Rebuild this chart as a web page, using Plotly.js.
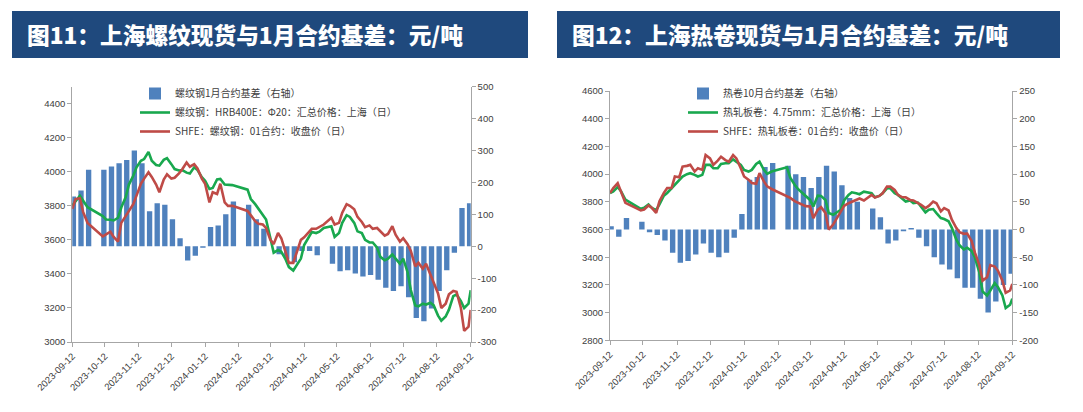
<!DOCTYPE html>
<html>
<head>
<meta charset="utf-8">
<script src="https://cdn.plot.ly/plotly-3.0.1.min.js"></script>
<style>
  html, body { margin: 0; padding: 0; background: #ffffff; }
  #chart { width: 1083px; height: 412px; }
</style>
</head>
<body>
<div id="chart"></div>
<script>
// ---------- data ----------
const lineDates = [
  '2023-09-12','2023-09-15','2023-09-19','2023-09-22','2023-09-26',
  '2023-10-10','2023-10-13','2023-10-17','2023-10-20','2023-10-24','2023-10-27','2023-10-31',
  '2023-11-03','2023-11-07','2023-11-10','2023-11-14','2023-11-17','2023-11-21','2023-11-24','2023-11-28',
  '2023-12-01','2023-12-05','2023-12-08','2023-12-12','2023-12-15','2023-12-19','2023-12-22','2023-12-26','2023-12-29',
  '2024-01-02','2024-01-05','2024-01-09','2024-01-12','2024-01-16','2024-01-19','2024-01-23','2024-01-26','2024-01-30',
  '2024-02-02','2024-02-06','2024-02-20','2024-02-23','2024-02-27',
  '2024-03-01','2024-03-05','2024-03-08','2024-03-12','2024-03-15','2024-03-19','2024-03-22','2024-03-26','2024-03-29',
  '2024-04-02','2024-04-09','2024-04-12','2024-04-16','2024-04-19','2024-04-23','2024-04-26','2024-04-30',
  '2024-05-07','2024-05-10','2024-05-14','2024-05-17','2024-05-21','2024-05-24','2024-05-28','2024-05-31',
  '2024-06-04','2024-06-07','2024-06-11','2024-06-14','2024-06-18','2024-06-21','2024-06-25','2024-06-28',
  '2024-07-02','2024-07-05','2024-07-09','2024-07-12','2024-07-16','2024-07-19','2024-07-23','2024-07-26','2024-07-30',
  '2024-08-02','2024-08-06','2024-08-09','2024-08-13','2024-08-16','2024-08-20','2024-08-23','2024-08-27','2024-08-30',
  '2024-09-03','2024-09-06','2024-09-10','2024-09-12'
];

const weekDates = [
  '2023-09-13','2023-09-20','2023-09-27','2023-10-11','2023-10-18','2023-10-25',
  '2023-11-01','2023-11-08','2023-11-15','2023-11-22','2023-11-29',
  '2023-12-06','2023-12-13','2023-12-20','2023-12-27',
  '2024-01-03','2024-01-10','2024-01-17','2024-01-24','2024-01-31',
  '2024-02-07','2024-02-21','2024-02-28',
  '2024-03-06','2024-03-13','2024-03-20','2024-03-27',
  '2024-04-03','2024-04-10','2024-04-17','2024-04-24',
  '2024-05-08','2024-05-15','2024-05-22','2024-05-29',
  '2024-06-05','2024-06-12','2024-06-19','2024-06-26',
  '2024-07-03','2024-07-10','2024-07-17','2024-07-24','2024-07-31',
  '2024-08-07','2024-08-14','2024-08-21','2024-08-28',
  '2024-09-04','2024-09-11'
];

// Chart 11: rebar
const rebarSpot = [
  3802,3825,3860,3830,3792,
  3740,3720,3718,3714,3730,3790,3850,
  3925,3977,4026,4065,4075,4117,4065,4040,
  4036,4070,4080,4045,4016,4008,4010,3995,3990,
  4026,4010,3968,3948,3899,3905,3955,3958,3925,
  3922,3922,3895,3840,3810,
  3782,3745,3720,3610,3525,3540,3530,3485,3440,
  3420,3490,3570,3610,3646,3640,3648,3670,
  3680,3617,3640,3700,3745,3735,3700,3650,
  3640,3600,3585,3585,3555,3500,3480,3490,
  3515,3490,3460,3490,3410,3305,3215,3210,3225,
  3220,3230,3215,3155,3125,3150,3190,3270,3280,
  3240,3200,3225,3305
];
const rebarFut = [
  3782,3840,3845,3763,3700,
  3620,3632,3648,3617,3590,3700,3740,
  3765,3810,3860,3930,3960,3997,3970,3925,
  3880,3955,3985,3960,3965,3990,4015,4055,4030,
  4045,4020,3960,3930,3820,3880,3870,3930,3820,
  3800,3800,3770,3745,3710,
  3695,3690,3670,3600,3575,3640,3610,3530,3465,
  3465,3600,3615,3640,3665,3665,3675,3690,
  3730,3690,3700,3760,3810,3800,3780,3735,
  3705,3675,3685,3665,3670,3650,3625,3635,
  3680,3630,3590,3610,3575,3535,3445,3465,3430,
  3460,3400,3350,3285,3200,3225,3280,3300,3295,
  3200,3065,3090,3188
];
const rebarBasis = [
  156,175,240,240,250,260,
  270,300,260,110,135,
  130,85,25,-45,
  -30,-5,60,65,100,
  140,130,85,
  55,0,-25,-40,
  -50,-15,-15,-28,
  -55,-78,-75,-85,
  -95,-90,-105,-130,
  -140,-125,-160,-225,-235,
  -195,-140,-75,-20,
  120,135
];

// Chart 12: hot-rolled coil
const hrcSpot = [
  3864,3876,3907,3876,3817,
  3750,3757,3781,3757,3740,3781,3845,
  3864,3900,3924,3960,3983,4000,4007,3995,
  3983,3995,4067,4067,4043,4043,4074,4079,4079,
  4107,4090,4067,4031,4019,4031,4074,4090,4031,
  4002,4019,4050,3975,3924,
  3893,3864,3840,3814,3767,3845,3843,3814,3719,
  3707,3743,3810,3850,3869,3862,3855,3874,
  3862,3833,3843,3862,3898,3898,3862,3850,
  3821,3802,3810,3790,3795,3767,3724,3743,
  3748,3719,3683,3676,3660,3612,3529,3486,3457,
  3469,3445,3398,3290,3152,3124,3160,3214,3183,
  3124,3033,3057,3100
];
const hrcFut = [
  3864,3900,3935,3876,3793,
  3738,3745,3774,3757,3721,3805,3864,
  3900,3900,3983,3978,4055,4060,4067,4019,
  4043,4031,4138,4114,4067,4098,4126,4102,4090,
  4138,4114,4043,3983,3960,3936,3931,4007,3948,
  3912,3893,3840,3829,3805,
  3793,3781,3769,3767,3683,3743,3762,3719,3600,
  3636,3731,3771,3790,3802,3814,3824,3810,
  3850,3831,3843,3862,3910,3910,3886,3850,
  3833,3833,3814,3810,3795,3779,3755,3771,
  3802,3790,3731,3755,3738,3671,3612,3581,3569,
  3571,3517,3433,3343,3231,3255,3343,3333,3302,
  3231,3143,3160,3207
];
const hrcBasis = [
  6,-13,21,14,-5,-10,
  -20,-42,-60,-57,-45,
  -25,-42,-50,-42,
  -15,28,90,95,113,
  120,115,100,
  95,75,95,115,
  105,80,57,50,
  38,22,-25,-20,
  -3,3,-15,-30,
  -50,-63,-72,-88,-105,
  -105,-125,-150,-130,
  -100,-80
];

const monthTicks = [
  '2023-09-12','2023-10-12','2023-11-12','2023-12-12','2024-01-12','2024-02-12',
  '2024-03-12','2024-04-12','2024-05-12','2024-06-12','2024-07-12','2024-08-12','2024-09-12'
];
const rebarPriceTicks = [3000,3200,3400,3600,3800,4000,4200,4400];
const rebarBasisTicks = [-300,-200,-100,0,100,200,300,400,500];
const hrcPriceTicks = [2800,3000,3200,3400,3600,3800,4000,4200,4400,4600];
const hrcBasisTicks = [-200,-150,-100,-50,0,50,100,150,200,250];

const titles = ['图11：上海螺纹现货与1月合约基差：元/吨', '图12：上海热卷现货与1月合约基差：元/吨'];
const names1 = ['螺纹钢1月合约基差（右轴）', '螺纹钢：HRB400E：Φ20：汇总价格：上海（日）', 'SHFE：螺纹钢：01合约：收盘价（日）'];
const names2 = ['热卷10月合约基差（右轴）', '热轧板卷：4.75mm：汇总价格：上海（日）', 'SHFE：热轧板卷：01合约：收盘价（日）'];

// ---------- style ----------
const W = 1083, H = 412;
const BLUE = '#4F81BD', GREEN = '#19A84E', RED = '#BF4B47';
const AXIS = '#A6A6A6', TXT = '#404040';
const CJK = 'Noto Sans CJK SC, sans-serif';
const NUM = 'Liberation Sans, Arial, sans-serif';
const barWidth = 4.9 * 86400000;
const px = v => v / W;
const py = v => 1 - v / H;

const traces = [
  { type: 'bar', x: weekDates, y: rebarBasis, xaxis: 'x', yaxis: 'y', name: names1[0],
    marker: { color: BLUE, line: { width: 0 } }, width: barWidth, legend: 'legend' },
  { type: 'scatter', mode: 'lines', x: lineDates, y: rebarSpot, xaxis: 'x', yaxis: 'y2', name: names1[1],
    line: { color: GREEN, width: 2.6 }, legend: 'legend' },
  { type: 'scatter', mode: 'lines', x: lineDates, y: rebarFut, xaxis: 'x', yaxis: 'y2', name: names1[2],
    line: { color: RED, width: 2.6 }, legend: 'legend' },
  { type: 'bar', x: weekDates, y: hrcBasis, xaxis: 'x2', yaxis: 'y3', name: names2[0],
    marker: { color: BLUE, line: { width: 0 } }, width: barWidth, legend: 'legend2' },
  { type: 'scatter', mode: 'lines', x: lineDates, y: hrcSpot, xaxis: 'x2', yaxis: 'y4', name: names2[1],
    line: { color: GREEN, width: 2.6 }, legend: 'legend2' },
  { type: 'scatter', mode: 'lines', x: lineDates, y: hrcFut, xaxis: 'x2', yaxis: 'y4', name: names2[2],
    line: { color: RED, width: 2.6 }, legend: 'legend2' }
];

const tickFont = { family: NUM, size: 9.5, color: TXT };
function xAxis(domain, anchor) {
  return {
    domain: domain, anchor: anchor, type: 'date',
    range: ['2023-09-12', '2024-09-12'],
    tickmode: 'array', tickvals: monthTicks, tickformat: '%Y-%m-%d',
    tickangle: -45, ticks: 'outside', ticklen: 4, tickcolor: AXIS,
    showline: true, linecolor: AXIS, linewidth: 1,
    showgrid: false, zeroline: false, tickfont: tickFont, fixedrange: true
  };
}
function yAxis(opts) {
  return Object.assign({
    ticks: 'outside', ticklen: 4, tickcolor: AXIS,
    showline: true, linecolor: AXIS, linewidth: 1,
    showgrid: false, zeroline: false, tickfont: tickFont, fixedrange: true,
    tickmode: 'array'
  }, opts);
}

const leftDomY = [py(342), py(86.7)];
const rightDomY = [py(340.3), py(91.1)];

const layout = {
  width: W, height: H,
  margin: { l: 0, r: 0, t: 0, b: 0 },
  paper_bgcolor: '#ffffff', plot_bgcolor: 'rgba(0,0,0,0)',
  showlegend: true,
  barmode: 'overlay',
  xaxis: xAxis([px(72.3), px(470.7)], 'y'),
  yaxis: yAxis({ domain: leftDomY, anchor: 'x', side: 'right', range: [-300, 500],
    tickvals: rebarBasisTicks, ticktext: rebarBasisTicks.map(String) }),
  yaxis2: yAxis({ overlaying: 'y', anchor: 'x', side: 'left', range: [3000, 4500],
    tickvals: rebarPriceTicks, ticktext: rebarPriceTicks.map(String) }),
  xaxis2: xAxis([px(610), px(1012.3)], 'y3'),
  yaxis3: yAxis({ domain: rightDomY, anchor: 'x2', side: 'right', range: [-200, 250],
    tickvals: hrcBasisTicks, ticktext: hrcBasisTicks.map(String) }),
  yaxis4: yAxis({ overlaying: 'y3', anchor: 'x2', side: 'left', range: [2800, 4600],
    tickvals: hrcPriceTicks, ticktext: hrcPriceTicks.map(String) }),
  legend: {
    x: px(135), y: py(79), xanchor: 'left', yanchor: 'top',
    bgcolor: 'rgba(0,0,0,0)', borderwidth: 0,
    font: { family: CJK, size: 10, color: TXT }, traceorder: 'normal', itemwidth: 30
  },
  legend2: {
    x: px(683), y: py(79), xanchor: 'left', yanchor: 'top',
    bgcolor: 'rgba(0,0,0,0)', borderwidth: 0,
    font: { family: CJK, size: 10, color: TXT }, traceorder: 'normal', itemwidth: 30
  },
  shapes: [
    { type: 'rect', xref: 'paper', yref: 'paper', x0: px(12), x1: px(528), y0: py(58), y1: py(11),
      fillcolor: '#1F497D', line: { width: 0 }, layer: 'below' },
    { type: 'rect', xref: 'paper', yref: 'paper', x0: px(557), x1: px(1060), y0: py(58), y1: py(11),
      fillcolor: '#1F497D', line: { width: 0 }, layer: 'below' }
  ],
  annotations: [
    { xref: 'paper', yref: 'paper', x: px(25), y: py(34.5), xanchor: 'left', yanchor: 'middle',
      showarrow: false, text: titles[0],
      font: { family: CJK, size: 22.7, color: '#ffffff', weight: 900 } },
    { xref: 'paper', yref: 'paper', x: px(570), y: py(34.5), xanchor: 'left', yanchor: 'middle',
      showarrow: false, text: titles[1],
      font: { family: CJK, size: 22.7, color: '#ffffff', weight: 900 } }
  ]
};

Plotly.newPlot('chart', traces, layout, { staticPlot: true, displayModeBar: false });
</script>
</body>
</html>
